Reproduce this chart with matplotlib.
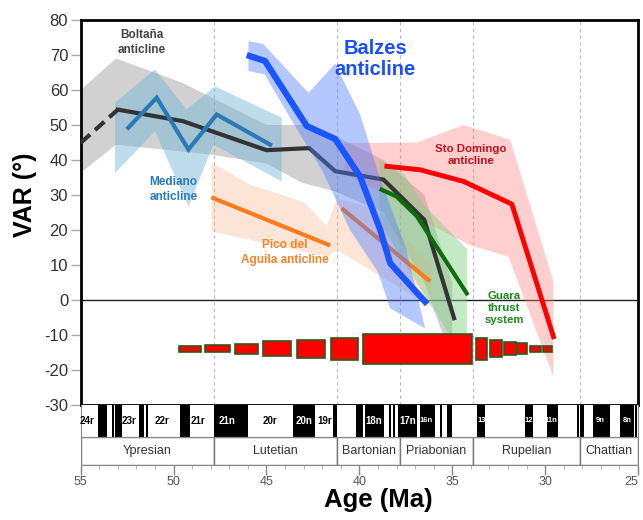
import matplotlib
matplotlib.use("Agg")
import matplotlib.pyplot as plt
from matplotlib.patches import Rectangle, Polygon

plt.rcParams['font.family'] = ['Liberation Sans', 'DejaVu Sans']

# ---------------- data ----------------
# Boltaña anticline
bolt_dash_age = [55.0, 53.0]
bolt_dash_val = [44.9, 54.4]
bolt_age = [53.0, 49.5, 45.0, 42.7, 41.3, 38.7, 36.5, 34.9]
bolt_val = [54.4, 51.1, 42.8, 43.4, 36.8, 34.4, 22.9, -5.2]
bolt_band_age = [55.0, 53.1, 49.5, 45.0, 42.5, 41.0, 38.7, 36.5, 35.0, 35.0, 35.5, 36.5, 38.7, 41.3, 43.1, 45.0, 47.9, 53.1, 55.0]
bolt_band_val = [60.0, 69.0, 62.0, 50.0, 50.0, 46.0, 40.0, 30.0, 5.0, -10.0, -10.0, 5.0, 25.0, 31.0, 33.5, 39.0, 41.5, 44.4, 36.3]

# Mediano anticline
med_age = [52.44, 50.91, 49.2, 47.68, 44.8]
med_val = [49.2, 57.8, 43.0, 53.0, 44.4]
med_band_age = [53.15, 51.0, 49.3, 47.77, 44.18, 44.18, 47.86, 49.2, 51.0, 53.15]
med_band_val = [56.4, 65.9, 54.4, 61.0, 52.1, 33.9, 44.4, 26.7, 48.2, 36.3]

# Pico del Aguila anticline
pico_age = [47.86, 41.67]
pico_val = [29.1, 15.8]
pico2_age = [40.86, 36.28]
pico2_val = [25.8, 5.7]
pico_band_age = [47.95, 45.9, 43.0, 41.75, 41.2, 39.0, 36.1, 36.1, 38.0, 41.2, 41.75, 47.95]
pico_band_val = [39.2, 33.0, 28.0, 21.0, 29.0, 26.0, 10.0, -2.0, 4.0, 14.3, 12.4, 19.6]

# Balzes anticline
balz_age = [45.9, 45.08, 42.83, 41.3, 39.96, 38.88, 38.34, 36.46]
balz_val = [69.7, 68.3, 49.7, 46.0, 35.3, 20.1, 10.5, -0.5]
balz_band_age = [45.97, 45.17, 42.74, 41.3, 39.96, 38.9, 37.5, 36.46, 38.34, 39.0, 40.5, 42.0, 43.5, 45.1, 45.97]
balz_band_val = [74.0, 73.1, 59.2, 67.5, 53.0, 35.0, 15.0, -8.1, -2.4, 8.0, 20.0, 37.0, 50.0, 64.5, 65.4]

# Sto Domingo anticline
sto_age = [38.52, 36.73, 34.4, 31.79, 29.55]
sto_val = [38.2, 37.2, 33.9, 27.4, -10.5]
sto_band_age = [40.8, 36.9, 34.4, 31.88, 29.55, 29.55, 31.97, 34.1, 36.0, 38.5, 40.8]
sto_band_val = [44.8, 45.0, 50.0, 45.8, 5.2, -22.0, 12.4, 15.8, 21.0, 30.0, 36.0]

# Guara thrust system
guara_age = [38.8, 38.0, 36.9, 34.22]
guara_val = [31.5, 29.6, 23.9, 1.9]
guara_band_age = [38.9, 37.6, 36.5, 34.2, 34.2, 35.2, 38.9]
guara_band_val = [40.0, 36.0, 27.0, 14.5, -9.5, -9.5, 22.0]

# red bars (age start, age end, thickness in VAR units)
bar_start = [49.69, 48.31, 46.69, 45.17, 43.37, 41.52, 39.78, 33.73, 32.96, 32.24, 31.49, 30.80, 30.12]
bar_end = [48.51, 46.96, 45.44, 43.69, 41.84, 40.05, 33.94, 33.14, 32.33, 31.58, 30.95, 30.23, 29.64]
bar_size = [1.8, 1.9, 2.9, 4.2, 5.1, 6.3, 8.6, 6.2, 4.9, 3.9, 3.0, 1.7, 1.7]
bar_center = -13.9

# magnetostratigraphy: normal-polarity (black) intervals
chron_normal = [(54.08, 53.60), (53.30, 53.22), (53.15, 52.79), (51.86, 51.59), (51.50, 51.36),
                (49.65, 49.11), (47.80, 46.00), (43.55, 42.38), (41.43, 41.21), (40.19, 39.81),
                (39.69, 38.67), (38.40, 38.29), (38.17, 38.08), (37.90, 36.91), (36.75, 35.95),
                (35.65, 35.57), (35.30, 35.02), (33.68, 33.23), (31.08, 30.63), (29.91, 29.33),
                (28.29, 28.20), (28.11, 27.93), (27.40, 26.50), (25.96, 25.24), (25.15, 25.06)]
chron_labels = ['24r', '23r', '22r', '21r', '21n', '20r', '20n', '19r', '18n', '17n', '16n', '13', '12', '11n', '9n', '8n']
chron_label_age = [54.68, 52.4, 50.6, 48.67, 47.14, 44.8, 42.96, 41.88, 39.24, 37.41, 36.41, 33.41, 30.86, 29.69, 27.04, 25.6]
chron_label_normal = [False, False, False, False, True, False, True, False, True, True, True, True, True, True, True, True]

# stages
stage_names = ['Ypresian', 'Lutetian', 'Bartonian', 'Priabonian', 'Rupelian', 'Chattian']
stage_start = [55.0, 47.8, 41.2, 37.8, 33.9, 28.1]
stage_end = [47.8, 41.2, 37.8, 33.9, 28.1, 25.0]

x_ticks = [55, 50, 45, 40, 35, 30, 25]
y_ticks = [80, 70, 60, 50, 40, 30, 20, 10, 0, -10, -20, -30]

# ---------------- figure ----------------
fig = plt.figure(figsize=(6.43, 5.20), dpi=100)
L, W = 80.7 / 643, 557.3 / 643
ax = fig.add_axes([L, 115 / 520, W, 385 / 520])
axm = fig.add_axes([L, 83 / 520, W, 32 / 520])
axs = fig.add_axes([L, 55 / 520, W, 28 / 520])

for a in (ax, axm, axs):
    a.set_xlim(55, 25)

# main axes
ax.set_ylim(-30, 80)
for s in ax.spines.values():
    s.set_linewidth(2.0)
    s.set_color('black')
ax.set_xticks([])
ax.set_yticks(y_ticks)
ax.set_yticklabels([str(v) for v in y_ticks], fontsize=12, color='#333333')
ax.tick_params(axis='y', length=7, width=1, color='#aaaaaa', pad=2)

for b in stage_start[1:]:
    ax.axvline(b, color='#bbbbbb', lw=0.8, ls=(0, (3, 3)), zorder=0)
ax.axhline(0, color='#222222', lw=1.0, zorder=1)

def band(a_list, v_list, color, alpha, z):
    ax.add_patch(Polygon(list(zip(a_list, v_list)), closed=True, facecolor=color,
                         edgecolor='none', alpha=alpha, zorder=z))

band(bolt_band_age, bolt_band_val, '#999999', 0.45, 2)
band(med_band_age, med_band_val, '#6fb3d6', 0.45, 2.1)
band(pico_band_age, pico_band_val, '#f9b48a', 0.35, 2.2)
band(sto_band_age, sto_band_val, '#ff8080', 0.38, 2.3)
band(guara_band_age, guara_band_val, '#80d080', 0.45, 2.4)

ax.plot(bolt_dash_age, bolt_dash_val, color='#333333', lw=3, ls=(0, (3, 1.6)), zorder=3)
ax.plot(bolt_age, bolt_val, color='#333333', lw=3, zorder=3, solid_joinstyle='miter')
ax.plot(pico_age, pico_val, color='#ff7a1a', lw=3, zorder=3)
ax.plot(pico2_age, pico2_val, color='#ff7a1a', lw=3, zorder=3)

band(balz_band_age, balz_band_val, '#4d7cff', 0.42, 4)

ax.plot(med_age, med_val, color='#2a7ab8', lw=3, zorder=5, solid_joinstyle='miter')
ax.plot(guara_age, guara_val, color='#0a6e0a', lw=3, zorder=5)
ax.plot(sto_age, sto_val, color='#ff0000', lw=3.5, zorder=5)
ax.plot(balz_age, balz_val, color='#1a55ff', lw=4.5, zorder=6)

for s0, s1, h in zip(bar_start, bar_end, bar_size):
    ax.add_patch(Rectangle((s0, bar_center - h / 2), s1 - s0, h, facecolor='#ff0000',
                           edgecolor='#2d5a1e', lw=1.2, zorder=8))

# annotations
ax.text(51.7, 73.5, 'Boltaña\nanticline', color='#444444', fontsize=8.5, fontweight='bold',
        ha='center', va='center', linespacing=1.3, zorder=9)
ax.text(50.0, 31.5, 'Mediano\nanticline', color='#2a7ab8', fontsize=8.5, fontweight='bold',
        ha='center', va='center', linespacing=1.3, zorder=9)
ax.text(44.0, 13.5, 'Pico del\nAguila anticline', color='#f5842a', fontsize=8.5, fontweight='bold',
        ha='center', va='center', linespacing=1.3, zorder=9)
ax.text(39.15, 68.8, 'Balzes\nanticline', color='#1a4fff', fontsize=14.5, fontweight='bold',
        ha='center', va='center', linespacing=1.15, zorder=9)
ax.text(34.0, 41.5, 'Sto Domingo\nanticline', color='#c0101a', fontsize=8.2, fontweight='bold',
        ha='center', va='center', linespacing=1.3, zorder=9)
ax.text(32.2, -2.3, 'Guara\nthrust\nsystem', color='#1a8a1a', fontsize=8.2, fontweight='bold',
        ha='center', va='center', linespacing=1.25, zorder=9)

# magnetostratigraphy bar
axm.set_ylim(0, 1)
axm.set_xticks([])
axm.set_yticks([])
for s in axm.spines.values():
    s.set_linewidth(0.8)
    s.set_color('#888888')
axm.spines['top'].set_visible(False)
for a0, a1 in chron_normal:
    axm.add_patch(Rectangle((a0, 0), a1 - a0, 1, facecolor='black', edgecolor='none'))
for lab, xa, nrm in zip(chron_labels, chron_label_age, chron_label_normal):
    fs = 5.5 if lab in ('13', '12', '11n', '9n', '8n', '16n') else 7
    axm.text(xa, 0.5, lab, color='white' if nrm else 'black', fontsize=fs, fontweight='bold',
             ha='center', va='center')

# stage bar
axs.set_ylim(0, 1)
axs.set_yticks([])
for s in axs.spines.values():
    s.set_linewidth(0.8)
    s.set_color('#888888')
for name, a0, a1 in zip(stage_names, stage_start, stage_end):
    axs.add_patch(Rectangle((a0, 0), a1 - a0, 1, facecolor='white', edgecolor='#777777', lw=1.0))
    axs.text((a0 + a1) / 2, 0.5, name, fontsize=9, color='#333333', ha='center', va='center')
axs.set_xticks(x_ticks)
axs.set_xticklabels([str(v) for v in x_ticks], fontsize=9, color='#555555')
axs.get_xticklabels()[-1].set_horizontalalignment('right')
axs.set_xticks(range(25, 56), minor=True)
axs.tick_params(axis='x', which='major', length=7, width=1, color='#888888', pad=1)
axs.tick_params(axis='x', which='minor', length=3, width=0.6, color='#aaaaaa')

fig.text(378 / 643, 1 - 500 / 520, 'Age (Ma)', fontsize=18.5, fontweight='bold',
         ha='center', va='center')
fig.text(25 / 643, 1 - 195 / 520, 'VAR (°)', fontsize=18, fontweight='bold',
         ha='center', va='center', rotation=90)

fig.savefig('out.png', dpi=100)
